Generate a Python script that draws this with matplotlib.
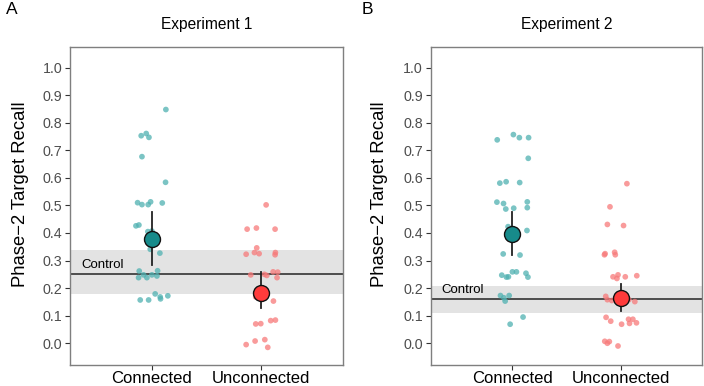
import numpy as np
import matplotlib
matplotlib.use("Agg")
import matplotlib.pyplot as plt

plt.rcParams['font.family'] = ['Liberation Sans', 'DejaVu Sans']

categories = ["Connected", "Unconnected"]
titles = ["Experiment 1", "Experiment 2"]
panel_letters = ["A", "B"]
yticks = [0.0, 0.1, 0.2, 0.3, 0.4, 0.5, 0.6, 0.7, 0.8, 0.9, 1.0]

# Experiment 1 – participant scores (jitter offset, recall)
exp1_conn_jit = [0.128, -0.098, -0.052, -0.027, -0.091, 0.125, -0.131, -0.091, -0.034, -0.012,
                 0.095, -0.146, -0.119, -0.037, 0.0, -0.015, 0.073, -0.116, 0.052, -0.122,
                 -0.076, -0.046, 0.0, 0.046, 0.030, 0.076, 0.146, 0.079, -0.107, -0.030]
exp1_conn = [0.848, 0.753, 0.761, 0.747, 0.677, 0.584, 0.510, 0.503, 0.503, 0.513,
             0.509, 0.426, 0.429, 0.405, 0.407, 0.341, 0.327, 0.262, 0.263, 0.238,
             0.248, 0.238, 0.248, 0.244, 0.179, 0.168, 0.172, 0.161, 0.157, 0.157]
exp1_unconn_jit = [0.046, -0.128, -0.043, 0.128, -0.040, -0.137, -0.061, -0.018, 0.131, 0.128,
                   -0.095, 0.030, 0.052, 0.110, 0.152, 0.146, -0.049, 0.113, -0.049, -0.003,
                   0.088, 0.131, -0.137, -0.055, 0.034, 0.061]
exp1_unconn = [0.502, 0.414, 0.418, 0.414, 0.346, 0.323, 0.329, 0.325, 0.329, 0.321,
               0.248, 0.250, 0.246, 0.259, 0.258, 0.238, 0.168, 0.153, 0.070, 0.071,
               0.082, 0.084, -0.005, 0.008, 0.013, -0.015]

# Experiment 2
exp2_conn_jit = [-0.137, 0.012, 0.067, 0.152, 0.149, -0.113, -0.055, 0.070, -0.140, -0.079,
                 -0.058, 0.015, 0.140, 0.140, -0.037, 0.137, -0.082, 0.073, -0.095, -0.052,
                 -0.034, 0.003, 0.040, 0.128, 0.146, -0.107, -0.027, -0.076, -0.064, 0.101,
                 -0.018]
exp2_conn = [0.738, 0.757, 0.746, 0.746, 0.671, 0.581, 0.586, 0.583, 0.512, 0.507,
             0.487, 0.490, 0.513, 0.492, 0.423, 0.409, 0.324, 0.320, 0.247, 0.240,
             0.241, 0.259, 0.259, 0.254, 0.240, 0.173, 0.173, 0.165, 0.153, 0.095,
             0.069]
exp2_unconn_jit = [0.058, -0.098, -0.122, 0.027, -0.143, -0.149, -0.055, -0.049, -0.070, -0.024,
                   -0.034, 0.043, 0.149, -0.137, -0.122, -0.082, 0.076, 0.131, -0.134, -0.091,
                   0.009, 0.073, 0.113, 0.082, 0.146, -0.146, -0.122, -0.104, -0.024]
exp2_unconn = [0.579, 0.495, 0.431, 0.427, 0.325, 0.321, 0.330, 0.321, 0.241, 0.248,
               0.235, 0.241, 0.245, 0.170, 0.158, 0.155, 0.158, 0.151, 0.094, 0.080,
               0.069, 0.087, 0.087, 0.072, 0.074, 0.007, 0.0, 0.006, -0.010]

# means with 95% CI
exp1_means = [0.377, 0.184]
exp1_lo = [0.284, 0.127]
exp1_hi = [0.476, 0.257]
exp2_means = [0.397, 0.163]
exp2_lo = [0.320, 0.117]
exp2_hi = [0.476, 0.216]

# control condition (mean, lower, upper)
control_mean = [0.25, 0.160]
control_lo = [0.178, 0.108]
control_hi = [0.339, 0.208]

point_cols = ["#4fb1b1", "#f77a7a"]
mean_cols = ["#178b8b", "#ff3b3b"]

panels = [
    ([exp1_conn_jit, exp1_unconn_jit], [exp1_conn, exp1_unconn], exp1_means, exp1_lo, exp1_hi),
    ([exp2_conn_jit, exp2_unconn_jit], [exp2_conn, exp2_unconn], exp2_means, exp2_lo, exp2_hi),
]

W, H = 704, 386
fig = plt.figure(figsize=(W / 100, H / 100), dpi=100)
ax_px = [(70, 343), (430.7, 702)]
top_px, bot_px = 46.7, 365

for i, (jits, vals, means, lo, hi) in enumerate(panels):
    l, r = ax_px[i]
    ax = fig.add_axes([l / W, 1 - bot_px / H, (r - l) / W, (bot_px - top_px) / H])

    ax.axhspan(control_lo[i], control_hi[i], color="#e3e3e3", lw=0, zorder=0)
    ax.axhline(control_mean[i], color="#333333", lw=1.2, zorder=1)
    ax.text(0.35, control_mean[i] + 0.012, "Control", ha="left", va="bottom",
            fontsize=9.5, color="black", zorder=2)

    for k in range(2):
        x = (k + 1) + np.array(jits[k])
        ax.scatter(x, vals[k], s=17, color=point_cols[k], alpha=0.75,
                   edgecolors="none", zorder=3)
        ax.plot([k + 1, k + 1], [lo[k], hi[k]], color="#222222", lw=1.3, zorder=4)
        ax.plot(k + 1, means[k], "o", ms=11.5, mfc=mean_cols[k], mec="#111111",
                mew=1.0, zorder=5)

    ax.set_xlim(0.25, 2.75)
    ax.set_ylim(-0.079, 1.076)
    ax.set_xticks([1, 2])
    ax.set_xticklabels(categories, fontsize=12, color="black")
    ax.set_yticks(yticks)
    ax.set_yticklabels([f"{t:.1f}" for t in yticks], fontsize=10.3, color="#4d4d4d")
    ax.tick_params(axis="both", length=3.5, width=0.8, color="#333333", pad=2)
    ax.tick_params(axis="x", pad=0.5)
    for sp in ax.spines.values():
        sp.set_color("#7f7f7f")
        sp.set_linewidth(1.0)

    cx = (l + r) / 2
    fig.text(cx / W, 1 - 25 / H, titles[i], ha="center", va="center", fontsize=11.2)
    ylab_x = [21, 380][i]
    fig.text(ylab_x / W, 1 - ((top_px + bot_px) / 2 - 12) / H, "Phase\u22122 Target Recall",
             rotation=90, ha="center", va="center", fontsize=13.3)
    lx = [12, 367][i]
    fig.text(lx / W, 1 - 10 / H, panel_letters[i], ha="center", va="center", fontsize=12.5)

fig.savefig("out.png", dpi=100)
